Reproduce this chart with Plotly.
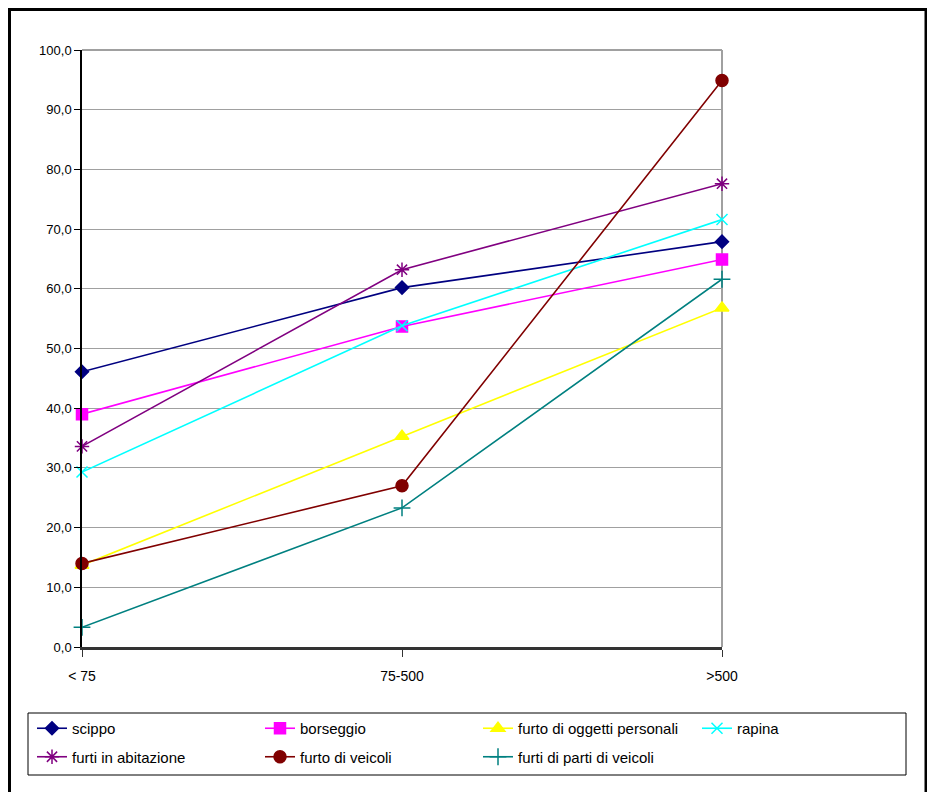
import plotly.graph_objects as go

categories = ["< 75", "75-500", ">500"]
series_names = ["scippo", "borseggio", "furto di oggetti personali", "rapina",
                "furti in abitazione", "furto di veicoli", "furti di parti di veicoli"]
scippo = [46.1, 60.2, 67.9]
borseggio = [39.0, 53.7, 64.9]
furto_oggetti = [13.7, 35.3, 56.8]
rapina = [29.3, 53.8, 71.6]
furti_abitazione = [33.6, 63.2, 77.6]
furto_veicoli = [14.0, 27.0, 94.9]
furti_parti = [3.3, 23.3, 61.6]

values = [scippo, borseggio, furto_oggetti, rapina, furti_abitazione, furto_veicoli, furti_parti]
colors = ["#000080", "#FF00FF", "#FFFF00", "#00FFFF", "#800080", "#800000", "#008080"]
symbols = ["diamond", "square", "triangle-up", "x-thin", "asterisk", "circle", "cross-thin"]
sizes = [10, 11, 12, 11, 12, 12, 12]
legend_ids = ["legend", "legend2", "legend3", "legend4", "legend", "legend2", "legend3"]

FONT = "Liberation Sans, Arial, sans-serif"

# page body has an 8px margin; figure coords = screen coords - 8
OFF = 8
W, H = 935 - OFF, 792 - OFF
L, T = 82 - OFF, 50 - OFF
R = W - (722 - OFF)
B = H - (647 - OFF)
pw, ph = W - L - R, H - T - B

def px_x(x):
    return (x - OFF - L) / pw

def px_y(y):
    return (H - B - (y - OFF)) / ph

fig = go.Figure()
for i, (name, vals, c, s, sz, lg) in enumerate(zip(series_names, values, colors, symbols, sizes, legend_ids)):
    fig.add_trace(go.Scatter(
        x=categories, y=vals, name=name, mode="lines+markers",
        line=dict(color=c, width=1.6),
        marker=dict(symbol=s, size=sz, color=c, line=dict(color=c, width=1.5)),
        legend=lg, legendgroup="g%d" % i, cliponaxis=False,
    ))

leg_common = dict(
    orientation="v", xanchor="left", yanchor="top",
    borderwidth=0, bgcolor="rgba(0,0,0,0)",
    font=dict(family=FONT, size=15, color="black"),
    tracegroupgap=6, itemwidth=30,
)
col_text_x = [73, 301, 519, 738]
legs = {}
for k, lg in enumerate(["legend", "legend2", "legend3", "legend4"]):
    legs[lg] = dict(leg_common, x=px_x(col_text_x[k] - 41), y=px_y(712))

fig.update_layout(
    width=W, height=H,
    margin=dict(l=L, r=R, t=T, b=B, autoexpand=False),
    paper_bgcolor="white", plot_bgcolor="white",
    separators=",.",
    font=dict(family=FONT, size=13, color="black"),
    showlegend=True,
    **legs,
    xaxis=dict(
        type="category", range=[0, 2], showgrid=False,
        showline=True, linecolor="#333333", linewidth=3,
        ticks="outside", ticklen=7, tickcolor="#333333", tickwidth=1,
        ticklabelstandoff=7, tickfont=dict(family=FONT, size=14),
        zeroline=False,
    ),
    yaxis=dict(
        range=[0, 100], dtick=10, tickformat=".1f",
        showgrid=True, gridcolor="#A0A0A0", gridwidth=1,
        showline=True, linecolor="black", linewidth=1.5,
        ticks="outside", ticklen=6, tickcolor="black",
        tickfont=dict(family=FONT, size=13), zeroline=False,
    ),
    shapes=[
        dict(type="line", xref="paper", yref="paper", x0=0, x1=1, y0=1, y1=1,
             line=dict(color="#A0A0A0", width=2), layer="below"),
        dict(type="line", xref="paper", yref="paper", x0=1, x1=1, y0=0, y1=1,
             line=dict(color="#A0A0A0", width=2), layer="below"),
        dict(type="rect", xref="paper", yref="paper",
             x0=px_x(9.5), x1=px_x(926), y0=px_y(9.5), y1=px_y(800),
             line=dict(color="black", width=3), layer="below"),
        dict(type="rect", xref="paper", yref="paper",
             x0=px_x(28), x1=px_x(906), y0=px_y(713), y1=px_y(775),
             line=dict(color="black", width=1), layer="below"),
    ],
)

fig.write_html("out.html")
